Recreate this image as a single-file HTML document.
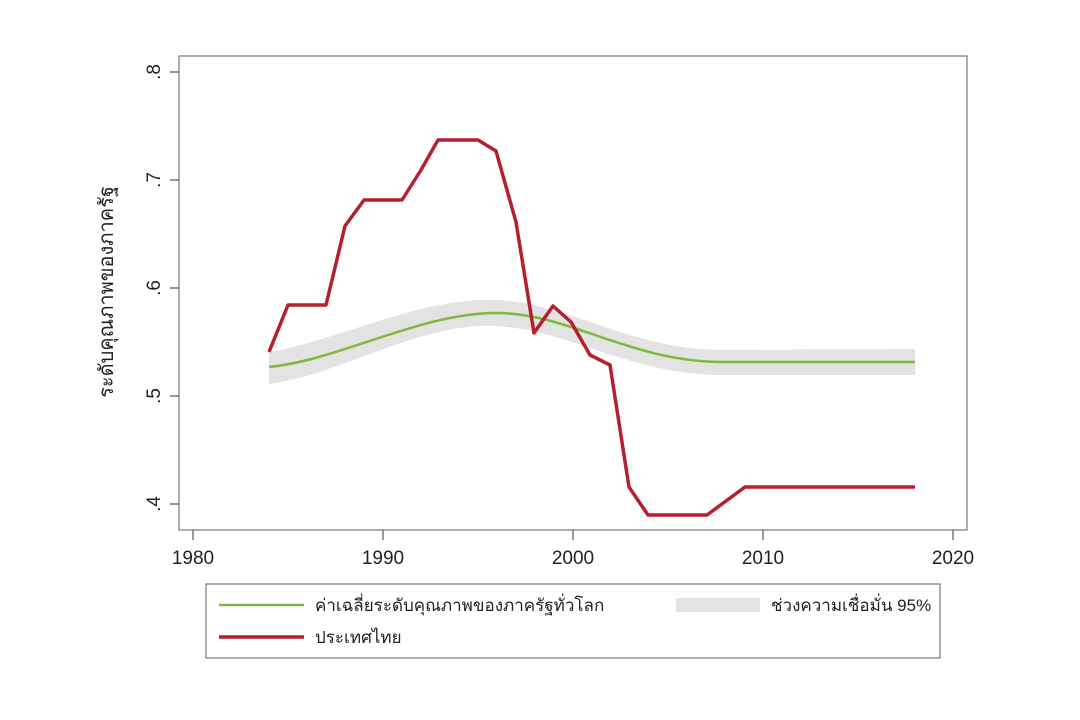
<!DOCTYPE html>
<html><head><meta charset="utf-8"><style>
body{margin:0;background:#fff;}
svg{display:block;font-family:"Liberation Sans","Noto Sans CJK SC",sans-serif;}
</style></head><body>
<svg width="1080" height="720" viewBox="0 0 1080 720">
<rect x="179" y="56" width="788" height="474" fill="#fff" stroke="#777" stroke-width="1.2"/>
<path d="M269,352 C340,340 420,297 496,300 C570,303 630,350 723,350 L915,349 L915,375 L723,375 C630,375 570,330 496,326 C420,322 340,375 269,384 Z" fill="#e3e3e3"/>
<path d="M269,367 C340,360 420,313 496,313 C570,313 630,362 723,362 L915,362" fill="none" stroke="#7cba3d" stroke-width="2.5"/>
<polyline points="269,352 288,305 326,305 345,226 364,200 402,200 421,170 438,140 478,140 496,151 516,222 534,333 553,306 571,322 590,355 610,365 629,487 648,515 707,515 745,487 915,487" fill="none" stroke="#b5202e" stroke-width="3.5" stroke-linejoin="round"/>
<g stroke="#555" stroke-width="1.2">
<line x1="170" y1="72" x2="179" y2="72"/><line x1="170" y1="180" x2="179" y2="180"/><line x1="170" y1="288" x2="179" y2="288"/><line x1="170" y1="396" x2="179" y2="396"/><line x1="170" y1="504" x2="179" y2="504"/>
<line x1="193" y1="530" x2="193" y2="540"/><line x1="383" y1="530" x2="383" y2="540"/><line x1="573" y1="530" x2="573" y2="540"/><line x1="763" y1="530" x2="763" y2="540"/><line x1="953" y1="530" x2="953" y2="540"/>
</g>
<g font-size="19" fill="#222" text-anchor="middle">
<text transform="translate(160,72) rotate(-90)">.8</text>
<text transform="translate(160,180) rotate(-90)">.7</text>
<text transform="translate(160,288) rotate(-90)">.6</text>
<text transform="translate(160,396) rotate(-90)">.5</text>
<text transform="translate(160,504) rotate(-90)">.4</text>
<text x="193" y="564">1980</text><text x="383" y="564">1990</text><text x="573" y="564">2000</text><text x="763" y="564">2010</text><text x="953" y="564">2020</text>
<text transform="translate(113,292) rotate(-90)" font-size="20">ระดับคุณภาพของภาครัฐ</text>
</g>
<rect x="206" y="584" width="734" height="74" fill="#fff" stroke="#777" stroke-width="1.2"/>
<line x1="219" y1="605" x2="304" y2="605" stroke="#7cba3d" stroke-width="2.5"/>
<line x1="219" y1="637" x2="304" y2="637" stroke="#b5202e" stroke-width="3.5"/>
<rect x="676" y="598" width="84" height="14" fill="#e3e3e3"/>
<g font-size="17" fill="#222">
<text x="315" y="611">ค่าเฉลี่ยระดับคุณภาพของภาครัฐทั่วโลก</text>
<text x="315" y="643">ประเทศไทย</text>
<text x="771" y="611">ช่วงความเชื่อมั่น 95%</text>
</g>
</svg>
</body></html>
